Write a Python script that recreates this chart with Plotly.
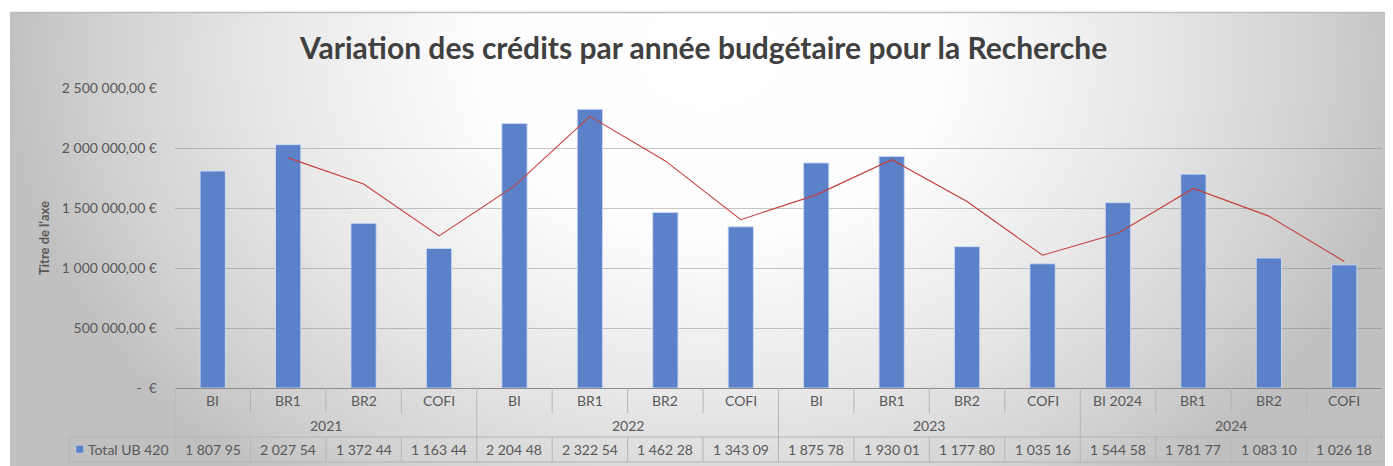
import base64
import plotly.graph_objects as go

# ---------------- data ----------------
years = ["2021", "2022", "2023", "2024"]
categories = ["BI", "BR1", "BR2", "COFI",
              "BI", "BR1", "BR2", "COFI",
              "BI", "BR1", "BR2", "COFI",
              "BI 2024", "BR1", "BR2", "COFI"]
values = [1807950, 2027540, 1372440, 1163440,
          2204480, 2322540, 1462280, 1343090,
          1875780, 1930010, 1177800, 1035160,
          1544580, 1781770, 1083100, 1026180]
# red trend line (starts at 2nd category)
trend = [None, 1917745, 1699990, 1267940,
         1683960, 2263510, 1892410, 1402685,
         1609435, 1902895, 1553905, 1106480,
         1289870, 1663175, 1432435, 1054640]
table_labels = ["1 807 95", "2 027 54", "1 372 44", "1 163 44",
                "2 204 48", "2 322 54", "1 462 28", "1 343 09",
                "1 875 78", "1 930 01", "1 177 80", "1 035 16",
                "1 544 58", "1 781 77", "1 083 10", "1 026 18"]
series_name = "Total UB 420"
title_text = "Variation des crédits par année budgétaire pour la Recherche"
y_title = "Titre de l'axe"
y_tickvals = [0, 500000, 1000000, 1500000, 2000000, 2500000]
y_ticktext = ["-  €", "500 000,00 €", "1 000 000,00 €", "1 500 000,00 €",
              "2 000 000,00 €", "2 500 000,00 €"]

# ---------------- geometry (reference pixels; page body has 8px margin) ----------------
OFF = 8
W, H = 1393 - OFF, 466 - OFF
PL, PR, PT, PB = 175 - OFF, 1382 - OFF, 88 - OFF, 388 - OFF   # plot area in figure px
pw, ph = PR - PL, PB - PT
FONT = "Lato, 'Open Sans', sans-serif"
TXT = "#595959"
GRID = "rgba(110,110,110,0.38)"
TLINE = "#b4b4b4"
BAR = "rgb(91,130,201)"
BAR_EDGE = "rgba(205,218,242,0.9)"


def px(xr):
    """reference x pixel -> paper x"""
    return (xr - OFF - PL) / pw


def py(yr):
    """reference y pixel -> paper y"""
    return (PB - (yr - OFF)) / ph


idx = list(range(len(categories)))

fig = go.Figure()
fig.add_trace(go.Bar(
    x=idx, y=values, name=series_name,
    marker=dict(color=BAR, line=dict(color=BAR_EDGE, width=1)),
    showlegend=False, hoverinfo="y"))
fig.add_trace(go.Scatter(
    x=idx, y=trend, mode="lines", connectgaps=False,
    line=dict(color="#c4403e", width=1.1), showlegend=False))

# ---------------- background gradient (chart area) ----------------
cw, chh = 1393 - 10, 466 - 12
svg = f'''<svg xmlns="http://www.w3.org/2000/svg" width="{cw}" height="{chh}" viewBox="0 0 {cw} {chh}" preserveAspectRatio="none">
<defs><radialGradient id="g" gradientUnits="userSpaceOnUse" cx="700" cy="45" r="705"
 gradientTransform="translate(700 45) scale(1 0.78) translate(-700 -45)">
<stop offset="0" stop-color="#ffffff"/>
<stop offset="0.33" stop-color="#fdfdfd"/>
<stop offset="0.62" stop-color="#e8e8e8"/>
<stop offset="0.85" stop-color="#d2d2d2"/>
<stop offset="1" stop-color="#c0c0c0"/>
</radialGradient></defs>
<rect x="0" y="0" width="{cw}" height="{chh}" fill="url(#g)"/>
</svg>'''
uri = "data:image/svg+xml;base64," + base64.b64encode(svg.encode()).decode()
fig.add_layout_image(dict(source=uri, xref="paper", yref="paper",
                          x=px(10), y=py(12), sizex=cw / pw, sizey=chh / ph,
                          xanchor="left", yanchor="top", sizing="stretch",
                          layer="below"))

shapes = []
# chart area top border
shapes.append(dict(type="line", xref="paper", yref="paper", x0=px(10), x1=px(1400),
                   y0=py(12.5), y1=py(12.5), line=dict(color="#bdbdbd", width=1.5)))

# ---------------- category table ----------------
y_axis = 0
y_cat = py(413)
y_year = py(437)
y_bot = py(462)
n = len(categories)
for i in range(n + 1):
    xb = i - 0.5
    if i % 4 == 0:
        shapes.append(dict(type="line", xref="x", yref="paper", x0=xb, x1=xb,
                           y0=y_axis, y1=y_bot, line=dict(color=TLINE, width=1)))
    else:
        shapes.append(dict(type="line", xref="x", yref="paper", x0=xb, x1=xb,
                           y0=y_axis, y1=y_cat, line=dict(color=TLINE, width=1)))
        shapes.append(dict(type="line", xref="x", yref="paper", x0=xb, x1=xb,
                           y0=y_year, y1=y_bot, line=dict(color=TLINE, width=1)))
# data row horizontal lines and legend cell
for yy in (y_year, y_bot):
    shapes.append(dict(type="line", xref="paper", yref="paper", x0=px(69), x1=1,
                       y0=yy, y1=yy, line=dict(color=TLINE, width=1)))
shapes.append(dict(type="line", xref="paper", yref="paper", x0=px(69), x1=px(69),
                   y0=y_year, y1=y_bot, line=dict(color=TLINE, width=1)))
# legend key square
shapes.append(dict(type="rect", xref="paper", yref="paper", x0=px(76), x1=px(83.5),
                   y0=py(453), y1=py(445.5), fillcolor=BAR,
                   line=dict(color=BAR_EDGE, width=0.5)))

FS = 14
ann = []


def label(x, y, text, xref="x", size=FS, xanchor="center", **kw):
    ann.append(dict(x=x, y=y, xref=xref, yref="paper", text=text, showarrow=False,
                    xanchor=xanchor, yanchor="middle",
                    font=dict(family=FONT, size=size, color=kw.pop("color", TXT)), **kw))


for i, c in enumerate(categories):
    label(i, py(400.5), c)
    label(i, py(449.5), table_labels[i])
for g, yr in enumerate(years):
    label(g * 4 + 1.5, py(425), yr)
label(px(86), py(449.5), series_name, xref="paper", xanchor="left")
label(px(44), 0.5, f"<b>{y_title}</b>", xref="paper", size=13, textangle=-90)
label(px(703), py(47), f"<b>{title_text}</b>", xref="paper", size=30, color="#404040")

fig.update_layout(
    width=W, height=H,
    margin=dict(l=PL, r=W - PR, t=PT, b=H - PB, pad=0),
    paper_bgcolor="white", plot_bgcolor="rgba(0,0,0,0)",
    bargap=0.665,
    xaxis=dict(range=[-0.5, n - 0.5], showticklabels=False, showgrid=False,
               zeroline=False, showline=True, linecolor="#8c8c8c", linewidth=1,
               ticks="", fixedrange=True),
    yaxis=dict(range=[0, 2500000], tickvals=y_tickvals, ticktext=y_ticktext,
               showgrid=True, gridcolor=GRID, gridwidth=1, zeroline=False,
               showline=False, ticks="", ticklabelstandoff=17,
               tickfont=dict(family=FONT, size=14, color=TXT)),
    shapes=shapes, annotations=ann,
    font=dict(family=FONT, color=TXT),
)

fig.write_html("out.html")
